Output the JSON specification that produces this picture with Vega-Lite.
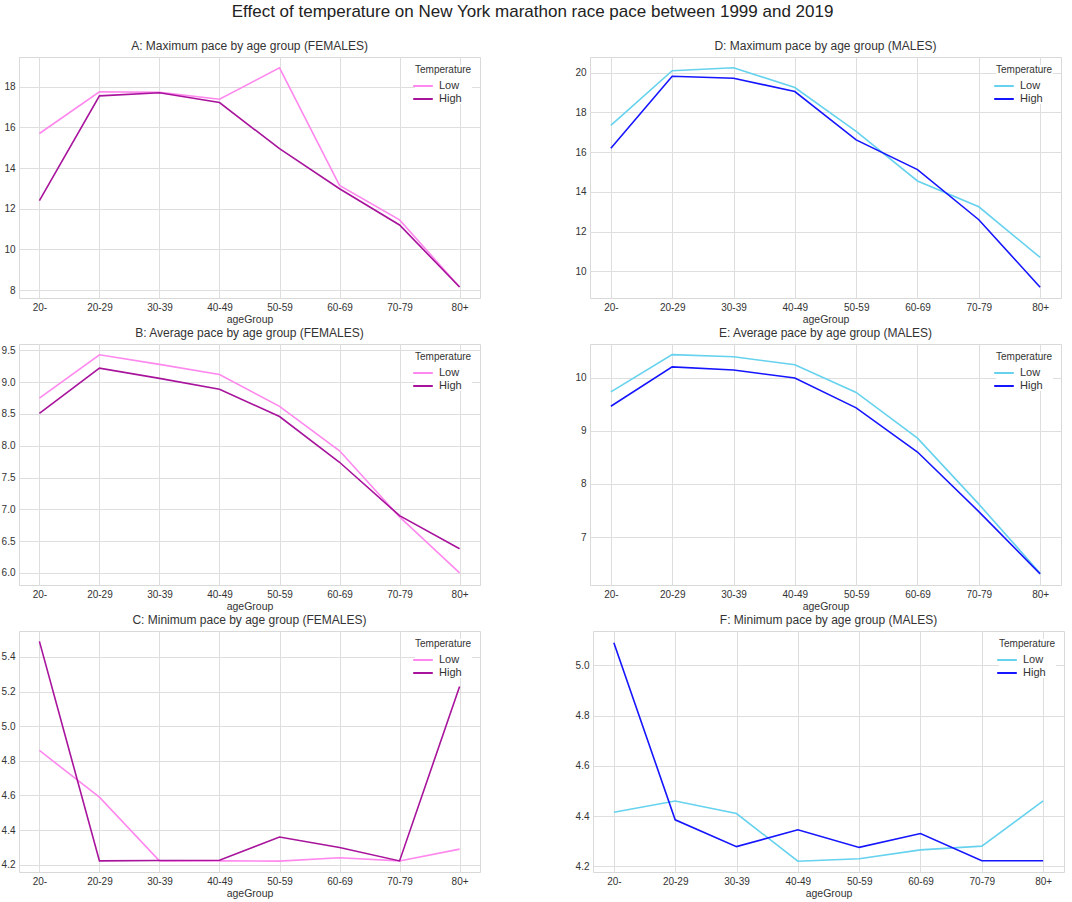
{
  "$schema": "https://vega.github.io/schema/vega-lite/v6.json",
  "title": {
    "text": "Effect of temperature on New York marathon race pace between 1999 and 2019",
    "fontSize": 17,
    "font": "Liberation Sans",
    "fontWeight": "normal",
    "color": "#222222",
    "anchor": "middle",
    "offset": 19
  },
  "padding": {"left": 0, "top": 2, "right": 10, "bottom": 2},
  "background": "white",
  "config": {
    "font": "Liberation Sans",
    "view": {"stroke": "#d9d9d9", "strokeWidth": 1},
    "axis": {
      "domain": false,
      "ticks": false,
      "grid": true,
      "gridColor": "#dedede",
      "gridWidth": 1,
      "labelColor": "#333333",
      "labelFontSize": 10,
      "labelPadding": 4,
      "titleColor": "#333333",
      "titleFontSize": 10.5,
      "titleFontWeight": "normal",
      "titlePadding": 2
    },
    "title": {"fontSize": 12, "fontWeight": "normal", "color": "#333333", "offset": 4},
    "legend": {
      "orient": "top-right",
      "offset": 8,
      "titleFontSize": 10,
      "titleFontWeight": "normal",
      "titleColor": "#333333",
      "titlePadding": 3,
      "labelFontSize": 11,
      "labelColor": "#333333",
      "labelOffset": 8,
      "symbolType": "M-1.4,0H1.4",
      "symbolStrokeWidth": 2,
      "symbolSize": 196,
      "rowPadding": 0,
      "fillColor": "white"
    }
  },
  "datasets": {
    "pace": [
      {"panel": "A", "ageGroup": "20-", "Temperature": "Low", "pace": 15.7},
      {"panel": "A", "ageGroup": "20-29", "Temperature": "Low", "pace": 17.75},
      {"panel": "A", "ageGroup": "30-39", "Temperature": "Low", "pace": 17.72},
      {"panel": "A", "ageGroup": "40-49", "Temperature": "Low", "pace": 17.38},
      {"panel": "A", "ageGroup": "50-59", "Temperature": "Low", "pace": 18.93},
      {"panel": "A", "ageGroup": "60-69", "Temperature": "Low", "pace": 13.15},
      {"panel": "A", "ageGroup": "70-79", "Temperature": "Low", "pace": 11.45},
      {"panel": "A", "ageGroup": "80+", "Temperature": "Low", "pace": 8.15},
      {"panel": "A", "ageGroup": "20-", "Temperature": "High", "pace": 12.4},
      {"panel": "A", "ageGroup": "20-29", "Temperature": "High", "pace": 17.55},
      {"panel": "A", "ageGroup": "30-39", "Temperature": "High", "pace": 17.7},
      {"panel": "A", "ageGroup": "40-49", "Temperature": "High", "pace": 17.22},
      {"panel": "A", "ageGroup": "50-59", "Temperature": "High", "pace": 14.95},
      {"panel": "A", "ageGroup": "60-69", "Temperature": "High", "pace": 12.98},
      {"panel": "A", "ageGroup": "70-79", "Temperature": "High", "pace": 11.2},
      {"panel": "A", "ageGroup": "80+", "Temperature": "High", "pace": 8.15},
      {"panel": "D", "ageGroup": "20-", "Temperature": "Low", "pace": 17.35},
      {"panel": "D", "ageGroup": "20-29", "Temperature": "Low", "pace": 20.1},
      {"panel": "D", "ageGroup": "30-39", "Temperature": "Low", "pace": 20.25},
      {"panel": "D", "ageGroup": "40-49", "Temperature": "Low", "pace": 19.25},
      {"panel": "D", "ageGroup": "50-59", "Temperature": "Low", "pace": 17.05},
      {"panel": "D", "ageGroup": "60-69", "Temperature": "Low", "pace": 14.55},
      {"panel": "D", "ageGroup": "70-79", "Temperature": "Low", "pace": 13.25},
      {"panel": "D", "ageGroup": "80+", "Temperature": "Low", "pace": 10.7},
      {"panel": "D", "ageGroup": "20-", "Temperature": "High", "pace": 16.2},
      {"panel": "D", "ageGroup": "20-29", "Temperature": "High", "pace": 19.82},
      {"panel": "D", "ageGroup": "30-39", "Temperature": "High", "pace": 19.72},
      {"panel": "D", "ageGroup": "40-49", "Temperature": "High", "pace": 19.05},
      {"panel": "D", "ageGroup": "50-59", "Temperature": "High", "pace": 16.62},
      {"panel": "D", "ageGroup": "60-69", "Temperature": "High", "pace": 15.12},
      {"panel": "D", "ageGroup": "70-79", "Temperature": "High", "pace": 12.6},
      {"panel": "D", "ageGroup": "80+", "Temperature": "High", "pace": 9.2},
      {"panel": "B", "ageGroup": "20-", "Temperature": "Low", "pace": 8.75},
      {"panel": "B", "ageGroup": "20-29", "Temperature": "Low", "pace": 9.43},
      {"panel": "B", "ageGroup": "30-39", "Temperature": "Low", "pace": 9.28},
      {"panel": "B", "ageGroup": "40-49", "Temperature": "Low", "pace": 9.12},
      {"panel": "B", "ageGroup": "50-59", "Temperature": "Low", "pace": 8.62},
      {"panel": "B", "ageGroup": "60-69", "Temperature": "Low", "pace": 7.92},
      {"panel": "B", "ageGroup": "70-79", "Temperature": "Low", "pace": 6.88},
      {"panel": "B", "ageGroup": "80+", "Temperature": "Low", "pace": 6.0},
      {"panel": "B", "ageGroup": "20-", "Temperature": "High", "pace": 8.51},
      {"panel": "B", "ageGroup": "20-29", "Temperature": "High", "pace": 9.22},
      {"panel": "B", "ageGroup": "30-39", "Temperature": "High", "pace": 9.06},
      {"panel": "B", "ageGroup": "40-49", "Temperature": "High", "pace": 8.89},
      {"panel": "B", "ageGroup": "50-59", "Temperature": "High", "pace": 8.46},
      {"panel": "B", "ageGroup": "60-69", "Temperature": "High", "pace": 7.74},
      {"panel": "B", "ageGroup": "70-79", "Temperature": "High", "pace": 6.9},
      {"panel": "B", "ageGroup": "80+", "Temperature": "High", "pace": 6.38},
      {"panel": "E", "ageGroup": "20-", "Temperature": "Low", "pace": 9.73},
      {"panel": "E", "ageGroup": "20-29", "Temperature": "Low", "pace": 10.43},
      {"panel": "E", "ageGroup": "30-39", "Temperature": "Low", "pace": 10.39},
      {"panel": "E", "ageGroup": "40-49", "Temperature": "Low", "pace": 10.24},
      {"panel": "E", "ageGroup": "50-59", "Temperature": "Low", "pace": 9.72},
      {"panel": "E", "ageGroup": "60-69", "Temperature": "Low", "pace": 8.86},
      {"panel": "E", "ageGroup": "70-79", "Temperature": "Low", "pace": 7.62},
      {"panel": "E", "ageGroup": "80+", "Temperature": "Low", "pace": 6.32},
      {"panel": "E", "ageGroup": "20-", "Temperature": "High", "pace": 9.46},
      {"panel": "E", "ageGroup": "20-29", "Temperature": "High", "pace": 10.2},
      {"panel": "E", "ageGroup": "30-39", "Temperature": "High", "pace": 10.14},
      {"panel": "E", "ageGroup": "40-49", "Temperature": "High", "pace": 9.99},
      {"panel": "E", "ageGroup": "50-59", "Temperature": "High", "pace": 9.43},
      {"panel": "E", "ageGroup": "60-69", "Temperature": "High", "pace": 8.6},
      {"panel": "E", "ageGroup": "70-79", "Temperature": "High", "pace": 7.48},
      {"panel": "E", "ageGroup": "80+", "Temperature": "High", "pace": 6.31},
      {"panel": "C", "ageGroup": "20-", "Temperature": "Low", "pace": 4.86},
      {"panel": "C", "ageGroup": "20-29", "Temperature": "Low", "pace": 4.59},
      {"panel": "C", "ageGroup": "30-39", "Temperature": "Low", "pace": 4.222},
      {"panel": "C", "ageGroup": "40-49", "Temperature": "Low", "pace": 4.222},
      {"panel": "C", "ageGroup": "50-59", "Temperature": "Low", "pace": 4.221},
      {"panel": "C", "ageGroup": "60-69", "Temperature": "Low", "pace": 4.24},
      {"panel": "C", "ageGroup": "70-79", "Temperature": "Low", "pace": 4.222},
      {"panel": "C", "ageGroup": "80+", "Temperature": "Low", "pace": 4.29},
      {"panel": "C", "ageGroup": "20-", "Temperature": "High", "pace": 5.49},
      {"panel": "C", "ageGroup": "20-29", "Temperature": "High", "pace": 4.222},
      {"panel": "C", "ageGroup": "30-39", "Temperature": "High", "pace": 4.224},
      {"panel": "C", "ageGroup": "40-49", "Temperature": "High", "pace": 4.226},
      {"panel": "C", "ageGroup": "50-59", "Temperature": "High", "pace": 4.36},
      {"panel": "C", "ageGroup": "60-69", "Temperature": "High", "pace": 4.3},
      {"panel": "C", "ageGroup": "70-79", "Temperature": "High", "pace": 4.222},
      {"panel": "C", "ageGroup": "80+", "Temperature": "High", "pace": 5.23},
      {"panel": "F", "ageGroup": "20-", "Temperature": "Low", "pace": 4.415},
      {"panel": "F", "ageGroup": "20-29", "Temperature": "Low", "pace": 4.46},
      {"panel": "F", "ageGroup": "30-39", "Temperature": "Low", "pace": 4.41},
      {"panel": "F", "ageGroup": "40-49", "Temperature": "Low", "pace": 4.22},
      {"panel": "F", "ageGroup": "50-59", "Temperature": "Low", "pace": 4.23},
      {"panel": "F", "ageGroup": "60-69", "Temperature": "Low", "pace": 4.265},
      {"panel": "F", "ageGroup": "70-79", "Temperature": "Low", "pace": 4.28},
      {"panel": "F", "ageGroup": "80+", "Temperature": "Low", "pace": 4.46},
      {"panel": "F", "ageGroup": "20-", "Temperature": "High", "pace": 5.09},
      {"panel": "F", "ageGroup": "20-29", "Temperature": "High", "pace": 4.385},
      {"panel": "F", "ageGroup": "30-39", "Temperature": "High", "pace": 4.278},
      {"panel": "F", "ageGroup": "40-49", "Temperature": "High", "pace": 4.345},
      {"panel": "F", "ageGroup": "50-59", "Temperature": "High", "pace": 4.275},
      {"panel": "F", "ageGroup": "60-69", "Temperature": "High", "pace": 4.33},
      {"panel": "F", "ageGroup": "70-79", "Temperature": "High", "pace": 4.222},
      {"panel": "F", "ageGroup": "80+", "Temperature": "High", "pace": 4.222}
    ]
  },
  "vconcat": [
    {
      "hconcat": [
        {
          "title": "A: Maximum pace by age group (FEMALES)",
          "width": 461, "height": 241,
          "data": {"name": "pace"},
          "transform": [{"filter": "datum.panel === 'A'"}],
          "mark": {"type": "line", "strokeWidth": 1.6},
          "encoding": {
            "x": {"field": "ageGroup", "type": "ordinal", "sort": null, "scale": {"type": "point", "padding": 0.34}, "axis": {"labelAngle": 0, "title": "ageGroup"}},
            "y": {"field": "pace", "type": "quantitative", "scale": {"domain": [7.61, 19.46], "nice": false, "zero": false}, "axis": {"title": null, "values": [8, 10, 12, 14, 16, 18]}},
            "color": {"field": "Temperature", "type": "nominal", "scale": {"domain": ["Low", "High"], "range": ["#ff88ee", "#a8139c"]}, "legend": {"title": "Temperature"}}
          }
        },
        {
          "title": "D: Maximum pace by age group (MALES)",
          "width": 471, "height": 241,
          "data": {"name": "pace"},
          "transform": [{"filter": "datum.panel === 'D'"}],
          "mark": {"type": "line", "strokeWidth": 1.6},
          "encoding": {
            "x": {"field": "ageGroup", "type": "ordinal", "sort": null, "scale": {"type": "point", "padding": 0.34}, "axis": {"labelAngle": 0, "title": "ageGroup"}},
            "y": {"field": "pace", "type": "quantitative", "scale": {"domain": [8.66, 20.79], "nice": false, "zero": false}, "axis": {"title": null, "values": [10, 12, 14, 16, 18, 20]}},
            "color": {"field": "Temperature", "type": "nominal", "scale": {"domain": ["Low", "High"], "range": ["#66d2ee", "#1515ff"]}, "legend": {"title": "Temperature"}}
          }
        }
      ],
      "spacing": 93,
      "resolve": {"scale": {"color": "independent", "y": "independent", "x": "independent"}}
    },
    {
      "hconcat": [
        {
          "title": "B: Average pace by age group (FEMALES)",
          "width": 461, "height": 241,
          "data": {"name": "pace"},
          "transform": [{"filter": "datum.panel === 'B'"}],
          "mark": {"type": "line", "strokeWidth": 1.6},
          "encoding": {
            "x": {"field": "ageGroup", "type": "ordinal", "sort": null, "scale": {"type": "point", "padding": 0.34}, "axis": {"labelAngle": 0, "title": "ageGroup"}},
            "y": {"field": "pace", "type": "quantitative", "scale": {"domain": [5.81, 9.6], "nice": false, "zero": false}, "axis": {"title": null, "values": [6, 6.5, 7, 7.5, 8, 8.5, 9, 9.5], "format": ".1f"}},
            "color": {"field": "Temperature", "type": "nominal", "scale": {"domain": ["Low", "High"], "range": ["#ff88ee", "#a8139c"]}, "legend": {"title": "Temperature"}}
          }
        },
        {
          "title": "E: Average pace by age group (MALES)",
          "width": 471, "height": 241,
          "data": {"name": "pace"},
          "transform": [{"filter": "datum.panel === 'E'"}],
          "mark": {"type": "line", "strokeWidth": 1.6},
          "encoding": {
            "x": {"field": "ageGroup", "type": "ordinal", "sort": null, "scale": {"type": "point", "padding": 0.34}, "axis": {"labelAngle": 0, "title": "ageGroup"}},
            "y": {"field": "pace", "type": "quantitative", "scale": {"domain": [6.1, 10.63], "nice": false, "zero": false}, "axis": {"title": null, "values": [7, 8, 9, 10]}},
            "color": {"field": "Temperature", "type": "nominal", "scale": {"domain": ["Low", "High"], "range": ["#66d2ee", "#1515ff"]}, "legend": {"title": "Temperature"}}
          }
        }
      ],
      "spacing": 93,
      "resolve": {"scale": {"color": "independent", "y": "independent", "x": "independent"}}
    },
    {
      "hconcat": [
        {
          "title": "C: Minimum pace by age group (FEMALES)",
          "width": 461, "height": 241,
          "data": {"name": "pace"},
          "transform": [{"filter": "datum.panel === 'C'"}],
          "mark": {"type": "line", "strokeWidth": 1.6},
          "encoding": {
            "x": {"field": "ageGroup", "type": "ordinal", "sort": null, "scale": {"type": "point", "padding": 0.34}, "axis": {"labelAngle": 0, "title": "ageGroup"}},
            "y": {"field": "pace", "type": "quantitative", "scale": {"domain": [4.158, 5.55], "nice": false, "zero": false}, "axis": {"title": null, "values": [4.2, 4.4, 4.6, 4.8, 5.0, 5.2, 5.4], "format": ".1f"}},
            "color": {"field": "Temperature", "type": "nominal", "scale": {"domain": ["Low", "High"], "range": ["#ff88ee", "#a8139c"]}, "legend": {"title": "Temperature"}}
          }
        },
        {
          "title": "F: Minimum pace by age group (MALES)",
          "width": 471, "height": 241,
          "data": {"name": "pace"},
          "transform": [{"filter": "datum.panel === 'F'"}],
          "mark": {"type": "line", "strokeWidth": 1.6},
          "encoding": {
            "x": {"field": "ageGroup", "type": "ordinal", "sort": null, "scale": {"type": "point", "padding": 0.34}, "axis": {"labelAngle": 0, "title": "ageGroup"}},
            "y": {"field": "pace", "type": "quantitative", "scale": {"domain": [4.177, 5.137], "nice": false, "zero": false}, "axis": {"title": null, "values": [4.2, 4.4, 4.6, 4.8, 5.0], "format": ".1f"}},
            "color": {"field": "Temperature", "type": "nominal", "scale": {"domain": ["Low", "High"], "range": ["#66d2ee", "#1515ff"]}, "legend": {"title": "Temperature"}}
          }
        }
      ],
      "spacing": 93,
      "resolve": {"scale": {"color": "independent", "y": "independent", "x": "independent"}}
    }
  ],
  "spacing": 1,
  "resolve": {"scale": {"color": "independent", "y": "independent", "x": "independent"}}
}
